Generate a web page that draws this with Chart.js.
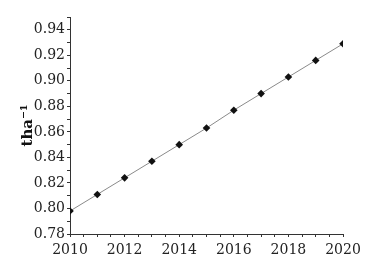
<!DOCTYPE html>
<html>
<head>
<meta charset="utf-8">
<script src="https://cdn.jsdelivr.net/npm/chart.js@4"></script>
<style>
  html, body { margin: 0; padding: 0; background: #fff; }
  #wrap { width: 383px; height: 269px; }
</style>
</head>
<body>
<div id="wrap"><canvas id="myChart" width="383" height="269"></canvas></div>
<script>
"use strict";

// values
const years = [2010, 2011, 2012, 2013, 2014, 2015, 2016, 2017, 2018, 2019, 2020];
const yields = [0.798, 0.811, 0.824, 0.837, 0.850, 0.863, 0.877, 0.890, 0.903, 0.916, 0.929];
const yTitle = "tha\u207B\u00B9";

const serif = "'DejaVu Serif', 'Liberation Serif', serif";

const data = {
    datasets: [
        {
            data: years.map((x, i) => ({ x: x, y: yields[i] })),
            borderColor: "#8a8a8a",
            borderWidth: 1,
            pointStyle: "rectRot",
            pointRadius: 3.8,
            pointBackgroundColor: "#111",
            pointBorderColor: "#111",
            pointBorderWidth: 0,
            clip: 0,
            tension: 0,
        },
    ],
};

const config = {
    type: "line",
    data: data,
    options: {
        responsive: false,
        animation: false,
        layout: { padding: { top: 17, right: 40, left: 0, bottom: 0 } },
        plugins: { legend: { display: false }, tooltip: { enabled: false } },
        scales: {
            x: {
                type: "linear",
                min: 2010,
                max: 2020,
                afterFit: (s) => { s.height = 35; },
                border: { color: "#333", width: 1 },
                grid: { drawOnChartArea: false, drawTicks: true, tickLength: 3, color: "#333" },
                ticks: {
                    stepSize: 0.5,
                    autoSkip: false,
                    maxRotation: 0,
                    padding: 5,
                    color: "#222",
                    font: { family: serif, size: 14 },
                    callback: (v) => (v % 2 === 0 ? String(v) : ""),
                },
            },
            y: {
                min: 0.78,
                max: 0.95,
                afterFit: (s) => { s.width = 70; },
                border: { color: "#333", width: 1 },
                grid: { drawOnChartArea: false, drawTicks: true, tickLength: 3, color: "#333" },
                ticks: {
                    stepSize: 0.01,
                    autoSkip: false,
                    padding: 2,
                    color: "#222",
                    font: { family: serif, size: 14 },
                    callback: (v) => (Math.round(v * 100) % 2 === 0 ? v.toFixed(2) : ""),
                },
                title: {
                    display: true,
                    text: yTitle,
                    color: "#111",
                    font: { family: serif, size: 15, weight: "bold" },
                    padding: { top: 19, bottom: 0 },
                },
            },
        },
    },
};

const myChart = new Chart(document.getElementById("myChart"), config);
</script>
</body>
</html>
